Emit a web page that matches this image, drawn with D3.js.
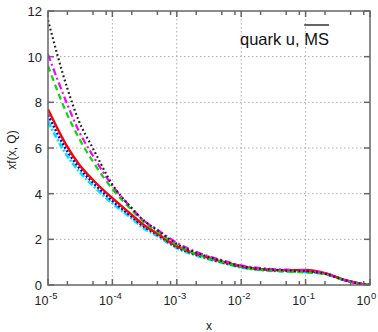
<!DOCTYPE html>
<html><head><meta charset="utf-8">
<script src="https://cdn.jsdelivr.net/npm/d3@7"></script>
<style>body{margin:0;background:#fff}svg{display:block;font-family:"Liberation Sans",Arial,sans-serif}</style>
</head><body><svg id="c" width="378" height="332"></svg>
<script>
const xs = [1e-5, 2e-5, 3e-5, 5e-5, 1e-4, 2e-4, 3e-4, 5e-4, 1e-3, 2e-3, 5e-3, 1e-2, 2e-2, 5e-2, 0.1, 0.2, 0.4, 0.6, 0.8, 1];
const black   = [11.6, 8.6, 7.2, 5.98, 4.4, 3.36, 2.85, 2.4, 1.8, 1.42, 1.06, 0.83, 0.71, 0.64, 0.61, 0.49, 0.22, 0.10, 0.03, 0];
const magenta = [10.1, 7.9, 6.75, 5.65, 4.35, 3.36, 2.85, 2.42, 1.85, 1.45, 1.09, 0.86, 0.74, 0.67, 0.64, 0.51, 0.22, 0.10, 0.03, 0];
const green   = [9.6, 7.45, 6.45, 5.4, 4.2, 3.28, 2.78, 2.33, 1.75, 1.37, 1.01, 0.79, 0.67, 0.59, 0.55, 0.47, 0.21, 0.10, 0.03, 0];
const red     = [7.7, 6.05, 5.3, 4.6, 3.8, 3.07, 2.65, 2.25, 1.70, 1.36, 1.03, 0.81, 0.69, 0.64, 0.66, 0.52, 0.22, 0.10, 0.03, 0];
const blue    = [7.45, 5.85, 5.15, 4.48, 3.68, 2.99, 2.58, 2.2, 1.66, 1.33, 1.0, 0.79, 0.68, 0.62, 0.60, 0.50, 0.22, 0.10, 0.03, 0];
const cyan    = [7.15, 5.65, 5.0, 4.35, 3.58, 2.92, 2.5, 2.15, 1.62, 1.30, 0.98, 0.77, 0.66, 0.60, 0.57, 0.50, 0.22, 0.10, 0.03, 0];
const yTicks = [0, 2, 4, 6, 8, 10, 12];
const xExps = [-5, -4, -3, -2, -1, 0];
const series = [
  {v: black,   c: "#222",    w: 2.2, d: "1.8,2.6"},
  {v: magenta, c: "#ff00ff", w: 2.2, d: "7,3,2,3"},
  {v: green,   c: "#00dd00", w: 2.2, d: "6,4"},
  {v: red,     c: "#ff0000", w: 2.4, d: null},
  {v: blue,    c: "#0000ee", w: 2.4, d: "2,2"},
  {v: cyan,    c: "#00e5ee", w: 2.8, d: "6,2,2,2"}
];
const svg = d3.select("#c");
const L = 48, R = 370, T = 11, B = 285;
const x = d3.scaleLog().domain([1e-5, 1]).range([L, R]);
const y = d3.scaleLinear().domain([0, 12]).range([B, T]);
const grid = svg.append("g").attr("stroke", "#aaa").attr("stroke-dasharray", "1.5,2.5").attr("stroke-width", 1);
xExps.slice(1, -1).forEach(e => grid.append("line").attr("x1", x(Math.pow(10, e))).attr("x2", x(Math.pow(10, e))).attr("y1", T).attr("y2", B));
yTicks.slice(1, -1).forEach(v => grid.append("line").attr("x1", L).attr("x2", R).attr("y1", y(v)).attr("y2", y(v)));
const line = d3.line().x((d, i) => x(xs[i])).y(d => y(d)).curve(d3.curveMonotoneX);
svg.append("clipPath").attr("id", "cp").append("rect").attr("x", L).attr("y", T - 2).attr("width", R - L).attr("height", B - T + 2);
const cg = svg.append("g").attr("clip-path", "url(#cp)");
series.slice().reverse().forEach(s => {
  cg.append("path").attr("d", line(s.v)).attr("fill", "none").attr("stroke", s.c)
    .attr("stroke-width", s.w).attr("stroke-dasharray", s.d);
});
const ax = svg.append("g").attr("stroke", "#666").attr("stroke-width", 1.5);
ax.append("rect").attr("x", L).attr("y", T).attr("width", R - L).attr("height", B - T).attr("fill", "none");
xExps.forEach(e => {
  const px = x(Math.pow(10, e));
  ax.append("line").attr("x1", px).attr("x2", px).attr("y1", B).attr("y2", B - 6);
  ax.append("line").attr("x1", px).attr("x2", px).attr("y1", T).attr("y2", T + 6);
  if (e < 0) [2, 5, 8].forEach(m => {
    const pm = x(m * Math.pow(10, e));
    ax.append("line").attr("x1", pm).attr("x2", pm).attr("y1", B).attr("y2", B - 4);
    ax.append("line").attr("x1", pm).attr("x2", pm).attr("y1", T).attr("y2", T + 4);
  });
});
yTicks.forEach(v => {
  ax.append("line").attr("x1", L).attr("x2", L + 6).attr("y1", y(v)).attr("y2", y(v));
  ax.append("line").attr("x1", R).attr("x2", R - 6).attr("y1", y(v)).attr("y2", y(v));
});
const tl = svg.append("g").attr("fill", "#222").attr("font-size", 13);
yTicks.forEach(v => tl.append("text").attr("x", L - 6).attr("y", y(v) + 5).attr("text-anchor", "end").text(v));
xExps.forEach(e => {
  const px = x(Math.pow(10, e));
  tl.append("text").attr("x", px + 0.5).attr("y", 305).attr("text-anchor", "end").attr("font-size", 12.5).text("10");
  tl.append("text").attr("x", px + 1).attr("y", 299).attr("font-size", 9.5).text(e === 0 ? "0" : "-" + (-e));
});
tl.append("text").attr("x", 209).attr("y", 330).attr("text-anchor", "middle").attr("font-size", 12).text("x");
tl.append("text").attr("transform", "translate(16,150) rotate(-90)").attr("text-anchor", "middle").attr("font-size", 12).text("xf(x, Q)");
const tt = svg.append("text").attr("x", 240).attr("y", 45).attr("font-size", 16.5).attr("fill", "#111");
tt.append("tspan").text("quark u, ");
tt.append("tspan").attr("id", "ms").text("MS");
const ms = document.getElementById("ms");
const e0 = ms.getExtentOfChar(0), e1 = ms.getExtentOfChar(1);
svg.append("line").attr("x1", e0.x).attr("x2", e1.x + e1.width).attr("y1", 25).attr("y2", 25).attr("stroke", "#111").attr("stroke-width", 1.3);
</script></body></html>
